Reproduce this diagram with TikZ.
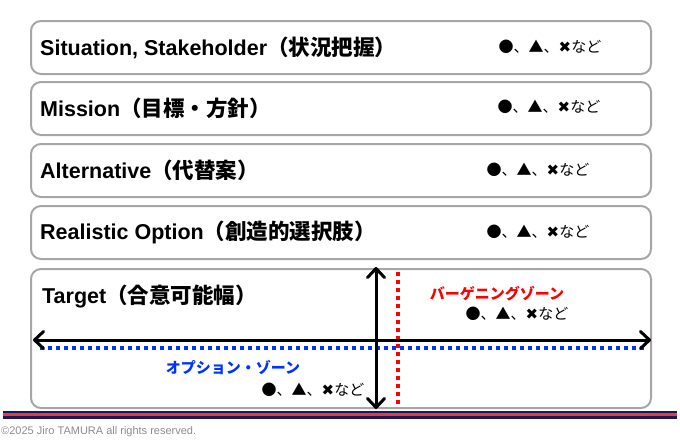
\documentclass[tikz,border=0pt]{standalone}
\usepackage{fontspec}
\setmainfont{Liberation Sans}
\newfontfamily\jpfont{Noto Sans CJK JP}
\newfontfamily\symfont{DejaVu Sans}
\usetikzlibrary{arrows.meta,positioning}
\definecolor{framegray}{RGB}{166,166,166}
\definecolor{zoneblue}{RGB}{0,51,255}
\definecolor{zonered}{RGB}{255,0,0}
\definecolor{stripenavy}{RGB}{25,25,90}
\definecolor{stripered}{RGB}{230,60,60}
\newcommand\etcmarks{{\jpfont ●、▲、}{\symfont ✖}{\jpfont など}}
\tikzset{
    panel/.style={draw=framegray,line width=2pt,rounded corners=10pt,anchor=north west,minimum width=620pt,inner sep=0pt},
    heading/.style={font=\fontsize{21.5}{24}\selectfont\bfseries,inner sep=0pt},
    marks/.style={font=\fontsize{15}{17}\selectfont,inner sep=0pt},
    zone/.style={font=\jpfont\fontsize{15}{17}\selectfont\bfseries,inner sep=0pt},
    barb/.tip={Straight Barb[length=9pt,width=17pt,line width=3pt,round]},
    biarrow/.style={barb-barb,line width=3pt},
    dotline/.style={line width=4pt,dash pattern=on 4pt off 4pt}
}

\begin{document}
\begin{tikzpicture}[x=1pt,y=-1pt]

    \useasboundingbox (0,0) rectangle (680,440);

    % five panels
    \node[panel,minimum height=53pt]  (sit)    at (30,20)  {};
    \node[panel,minimum height=53pt]  (mis)    at (30,81)  {};
    \node[panel,minimum height=53pt]  (alt)    at (30,143) {};
    \node[panel,minimum height=53pt]  (opt)    at (30,205) {};
    \node[panel,minimum height=139pt] (target) at (30,268) {};

    \node[heading] (sit title) [right=10pt of sit.west] {Situation, Stakeholder{\jpfont（状況把握）}};
    \node[heading] (mis title) [right=10pt of mis.west] {Mission{\jpfont（目標・方針）}};
    \node[heading] (alt title) [right=10pt of alt.west] {Alternative{\jpfont（代替案）}};
    \node[heading] (opt title) [right=10pt of opt.west] {Realistic Option{\jpfont（創造的選択肢）}};
    \node[heading,anchor=west] (target title) at (42,296) {Target{\jpfont（合意可能幅）}};

    \node[marks] (sit marks) at (550,47)  {\etcmarks};
    \node[marks] (mis marks) at (549,107) {\etcmarks};
    \node[marks] (alt marks) at (538,170) {\etcmarks};
    \node[marks] (opt marks) at (538,232) {\etcmarks};

    % zones
    \node[zone,text=zonered]  (bargain) at (497,294) {バーゲニングゾーン};
    \node[marks] (bargain marks) [below=5pt of bargain,xshift=20pt] {\etcmarks};
    \node[zone,text=zoneblue] (option)  at (233,368) {オプション・ゾーン};
    \node[marks] (option marks) at (313,390) {\etcmarks};

    \coordinate (blue start) at (40,348);
    \coordinate (blue end)   at (646,348);
    \coordinate (red start)  at (398,272);
    \coordinate (red end)    at (398,406);
    \coordinate (axis west)  at (33,340);
    \coordinate (axis east)  at (651,340);
    \coordinate (axis north) at (376,267);
    \coordinate (axis south) at (376,409);

    \draw[dotline,zoneblue] (blue start) -- (blue end);
    \draw[dotline,zonered,line width=3.5pt] (red start) -- (red end);
    \draw[biarrow] (axis west) -- (axis east);
    \draw[biarrow] (axis north) -- (axis south);

    % footer
    \fill[stripenavy] (3,410.5) rectangle (677,418.5);
    \fill[stripered]  (3,413)   rectangle (677,416);
    \node[anchor=west,inner sep=0pt,text=gray!90,font=\fontsize{11}{12}\selectfont] (copyright) at (1,432) {©2025 Jiro TAMURA all rights reserved.};

\end{tikzpicture}
\end{document}
